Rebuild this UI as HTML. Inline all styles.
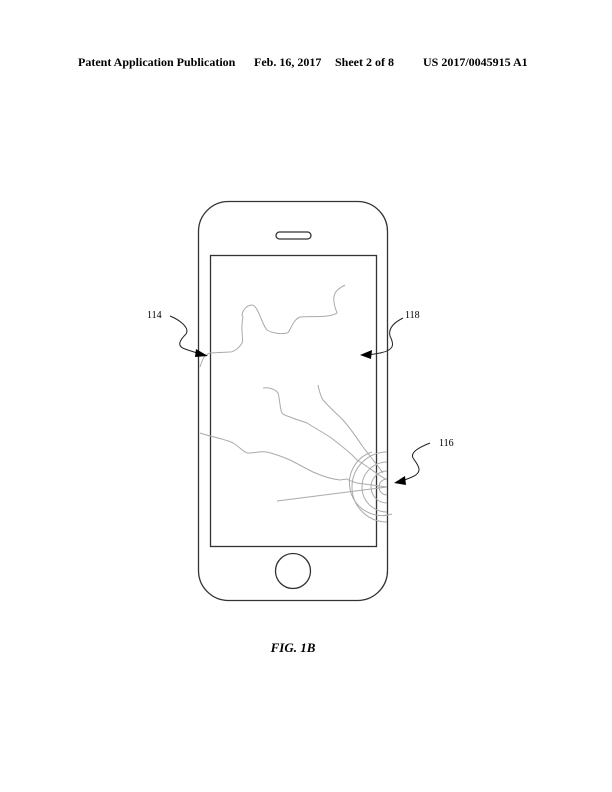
<!DOCTYPE html>
<html><head><style>
body{margin:0;background:#fff;}
svg{display:block}
</style></head><body>
<svg width="612" height="792" viewBox="0 0 612 792" xmlns="http://www.w3.org/2000/svg">
<g font-family="Liberation Serif, serif" fill="#000">
<text x="78" y="66" font-size="12" font-weight="bold">Patent Application Publication</text>
<text x="254" y="66" font-size="12" font-weight="bold">Feb. 16, 2017</text>
<text x="335" y="66" font-size="12" font-weight="bold">Sheet 2 of 8</text>
<text x="423" y="66" font-size="12" font-weight="bold">US 2017/0045915 A1</text>
<text x="147" y="318" font-size="10">114</text>
<text x="405" y="318" font-size="10">118</text>
<text x="439" y="446" font-size="10">116</text>
<text x="293" y="652" font-size="13" font-weight="bold" font-style="italic" text-anchor="middle">FIG. 1B</text>
</g>
<g fill="none" stroke="#333" stroke-width="1.3">
<rect x="198.5" y="201.5" width="189" height="399" rx="30"/>
<rect x="210.5" y="255.5" width="166" height="291"/>
<rect x="276" y="232" width="35" height="7" rx="3.5"/>
<circle cx="293" cy="571" r="17.5"/>
</g>
<g fill="none" stroke="#aaa" stroke-width="1">
<path d="M345,285 C335,290 330,295 337,313 C330,318 310,316 300,317 C292,320 290,333 287,333 C280,335 270,332 267,330 C262,325 258,305 252,305 C245,305 240,315 243,317 C240,330 244,340 242,343 C238,350 232,352 230,352 L210,353 C205,355 203,357 200,367"/>
<path d="M263,388 C270,387 276,390 278,393 C280,400 280,410 282,413 C285,416 288,416 290,417 C297,420 302,421 307,423 C315,428 322,432 330,437 C340,445 350,452 357,460 C370,468 378,475 387,480"/>
<path d="M318,385 C319,390 320,395 323,400 C330,408 337,414 343,420 C350,428 357,438 363,447 C370,456 377,465 383,473"/>
<path d="M200,433 C212,437 225,439 233,443 C240,447 244,453 248,453 C255,453 260,451 267,452 C275,454 283,457 290,460 C298,464 305,468 313,472 C322,476 331,479 340,480 L347,479 C350,481 354,482 357,483 L387,487"/>
<path d="M277,501 L387,487"/>
<path d="M387,452 A35,35 0 0 0 387,522"/>
<path d="M387,462 A25,25 0 0 0 387,512"/>
<path d="M387,471 A16,16 0 0 0 387,503"/>
<path d="M387,479 A8,8 0 0 0 387,495"/>
<path d="M372,452 A30,30 0 0 0 392,514"/>
</g>
<g fill="none" stroke="#222" stroke-width="1">
<path d="M170,316 C180,320 190,328 186,334 C180,340 176,346 185,349 C190,351 195,352 200,354"/>
<path d="M403,318 C395,322 388,328 390,336 C394,344 395,350 380,353 C375,354 370,355 364,355"/>
<path d="M430,443 C420,447 410,452 413,458 C418,465 424,472 412,477 C407,479 403,481 397,482"/>
</g>
<g fill="#000">
<polygon points="208,356 196,349 195,357"/>
<polygon points="360,355 372,350 371,359"/>
<polygon points="394,483 405,476 406,485"/>
</g>
</svg>
</body></html>
